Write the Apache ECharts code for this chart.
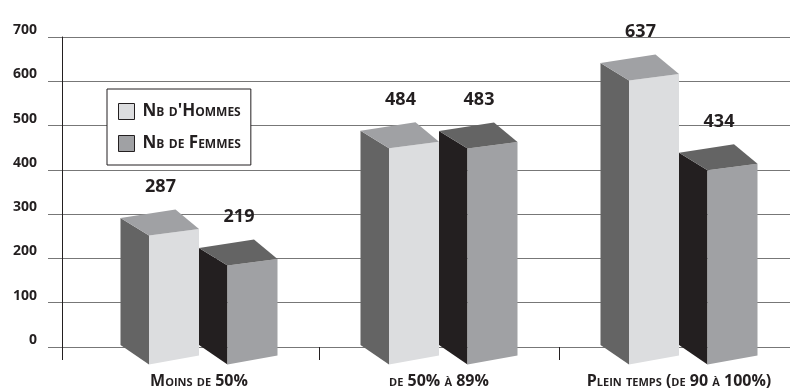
<!DOCTYPE html>
<html>
<head>
<meta charset="utf-8">
<script src="https://cdn.jsdelivr.net/npm/echarts@6/dist/echarts.min.js"></script>
<style>html,body{margin:0;padding:0;background:#fff;}#c{width:790px;height:390px;}</style>
</head>
<body>
<div id="c"></div>
<script>
const categories = ['Moins de 50%', 'de 50% à 89%', 'Plein temps (de 90 à 100%)'];
const seriesNames = ["Nb d'Hommes", 'Nb de Femmes'];
const hommes = [287, 484, 637];
const femmes = [219, 483, 434];
const yMin = 0, yMax = 700, yInterval = 100;

const FONT = '"Open Sans", "Noto Sans", sans-serif';
const TXT = '#231f20';

const palettes = [
  { side: '#646464', front: '#dcdddf', top: '#a0a1a4' },
  { side: '#231f20', front: '#a0a1a4', top: '#646464' }
];
const shiftX = [-78.5, 0];

function makeRender(si) {
  return function (params, api) {
    const cat = api.value(0), v = api.value(1);
    const pt = api.coord([cat, v]);
    const pb = api.coord([cat, 0]);
    const x = pt[0] + shiftX[si];
    const ty = pt[1] - 2, by = pb[1] - 2;
    const p = palettes[si];
    const T = [x, ty], B = [x, by];
    const FLt = [x + 28.5, ty + 17.5], FRt = [x + 78.5, ty + 11], BRt = [x + 55, ty - 8.5];
    const FLb = [x + 28.5, by + 19.5], FRb = [x + 78.5, by + 10.5];
    return {
      type: 'group',
      children: [
        { type: 'polygon', shape: { points: [T, FLt, FLb, B] }, style: { fill: p.side } },
        { type: 'polygon', shape: { points: [FLt, FRt, FRb, FLb] }, style: { fill: p.front } },
        { type: 'polygon', shape: { points: [T, BRt, FRt, FLt] }, style: { fill: p.top } },
        { type: 'text', x: x + 40, y: ty - 31, style: {
            text: String(v), fill: TXT, font: 'bold 18px ' + FONT, align: 'center', verticalAlign: 'middle' } }
      ]
    };
  };
}

const chart = echarts.init(document.getElementById('c'), null, { renderer: 'canvas' });
chart.setOption({
  animation: false,
  backgroundColor: '#fff',
  legend: {
    orient: 'vertical',
    left: 107, top: 89,
    padding: [14, 10, 13, 11],
    itemGap: 15,
    itemWidth: 16, itemHeight: 16,
    backgroundColor: '#fff',
    borderColor: TXT, borderWidth: 1,
    icon: 'rect',
    itemStyle: { borderColor: TXT, borderWidth: 1 },
    textStyle: { fontFamily: FONT, fontSize: 17, fontWeight: 'bold', fontStyle: 'normal small-caps', color: TXT, width: 114, padding: [0, 0, 0, 3] },
    data: seriesNames
  },
  grid: [
    { left: 62, right: 0, top: 37, bottom: 43, outerBoundsMode: 'none' },
    { left: 79, width: 720, top: 37, bottom: 43, outerBoundsMode: 'none' }
  ],
  xAxis: [
    { gridIndex: 0, type: 'category', data: categories, boundaryGap: true,
      axisLine: { show: false }, axisLabel: { show: false },
      axisTick: { show: true, length: 13, interval: function (i) { return i === 0; }, lineStyle: { color: TXT } } },
    { gridIndex: 1, type: 'category', data: categories, boundaryGap: true,
      axisLine: { show: false },
      axisTick: { show: true, length: 13, interval: function (i) { return i > 0; }, lineStyle: { color: TXT } },
      axisLabel: { margin: 26, color: TXT, fontFamily: FONT, fontSize: 16, fontWeight: 'bold', fontStyle: 'normal small-caps', interval: 0 } }
  ],
  yAxis: [
    { gridIndex: 0, type: 'value', min: yMin, max: yMax, interval: yInterval,
      axisLine: { show: true, lineStyle: { color: TXT } },
      axisTick: { show: true, inside: false, length: 14, lineStyle: { color: '#777' } },
      splitLine: { show: true, lineStyle: { color: '#777', width: 1 } },
      axisLabel: { margin: 25, color: TXT, fontFamily: FONT, fontSize: 14, fontWeight: 'bold', verticalAlign: 'bottom' } },
    { gridIndex: 1, type: 'value', min: yMin, max: yMax, interval: yInterval, show: false,
      splitLine: { show: false } }
  ],
  series: [
    { name: seriesNames[0], type: 'custom', xAxisIndex: 1, yAxisIndex: 1,
      itemStyle: { color: palettes[0].front }, renderItem: makeRender(0),
      encode: { x: 0, y: 1 }, data: hommes.map((v, i) => [i, v]), z: 3 },
    { name: seriesNames[1], type: 'custom', xAxisIndex: 1, yAxisIndex: 1,
      itemStyle: { color: palettes[1].front }, renderItem: makeRender(1),
      encode: { x: 0, y: 1 }, data: femmes.map((v, i) => [i, v]), z: 4 }
  ]
});
</script>
</body>
</html>
